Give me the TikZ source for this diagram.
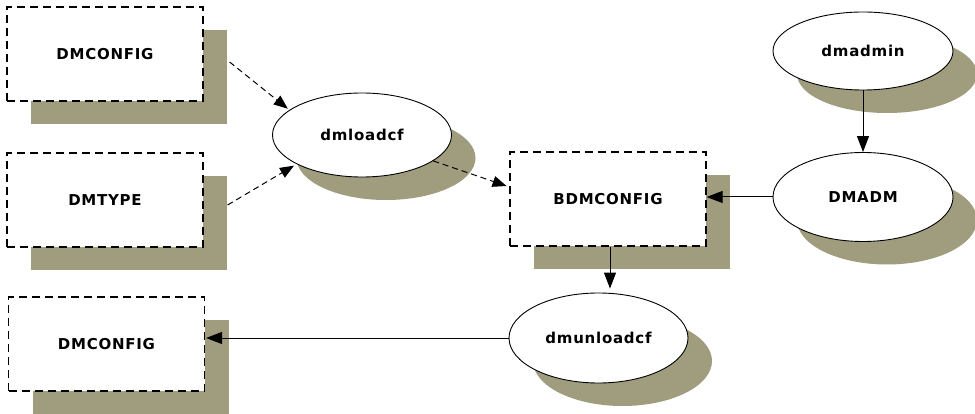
\documentclass[tikz,border=0pt]{standalone}
\usepackage{fontspec}
\newfontfamily\lblfont[LetterSpace=5]{DejaVu Sans Bold}
\usetikzlibrary{arrows.meta,shapes.geometric,shadows,calc}
\definecolor{shade}{RGB}{160,157,127}
\tikzset{
  boxsh/.style={drop shadow={shadow xshift=24pt,shadow yshift=-23pt,fill=shade,opacity=1}},
  store/.style={rectangle,draw=black,fill=white,line width=1.2pt,
    dash pattern=on 8pt off 5pt,minimum width=196pt,minimum height=94pt,
    inner sep=0pt,boxsh,font=\lblfont\fontsize{15}{18}\selectfont},
  proc/.style={ellipse,draw=black,fill=white,line width=0.9pt,inner sep=0pt,
    boxsh,font=\lblfont\fontsize{15}{18}\selectfont},
  flow/.style={line width=1pt,-{Triangle[length=16pt,width=12pt]}},
  dflow/.style={line width=1pt,dash pattern=on 6pt off 4pt,
    -{Triangle[length=14pt,width=11pt]}}
}
\begin{document}
\begin{tikzpicture}[x=1pt,y=-1pt]
\useasboundingbox (0,0) rectangle (975,414);
% data stores
\node[store] (cfgA) at (105,54) {DMCONFIG};
\node[store] (typ)  at (105,200) {DMTYPE};
\node[store] (cfgB) at (106.5,344) {DMCONFIG};
\node[store] (bdm)  at (608,199) {BDMCONFIG};
% processes
\node[proc,minimum width=179pt,minimum height=84pt] (load)  at (362,135) {dmloadcf};
\node[proc,minimum width=180pt,minimum height=78pt] (adm)   at (863,51) {dmadmin};
\node[proc,minimum width=180pt,minimum height=89pt] (dmadm) at (863,197) {DMADM};
\node[proc,minimum width=179pt,minimum height=90pt] (unl)   at (598.5,338) {dmunloadcf};
% dashed input flows
\coordinate (s1) at ($(cfgA.east)+(26,8)$);
\coordinate (s2) at ($(typ.east)+(24,5)$);
\draw[dflow,shorten >=2pt] (s1) -- (load.161);
\draw[dflow,shorten >=3pt] (s2) -- (load.204);
\draw[dflow,shorten >=3pt] (load.340) -- ($(bdm.west)+(0,-12)$);
% solid flows
\draw[flow] (adm.south) -- (dmadm.north);
\draw[flow] (dmadm.west) -- (dmadm.west -| bdm.east);
\draw[flow,shorten >=4pt] ($(bdm.south)+(2,0)$) coordinate (t) -- (t |- unl.north);
\draw[flow,shorten >=1pt] (unl.west) -- (unl.west -| cfgB.east);
\end{tikzpicture}
\end{document}
